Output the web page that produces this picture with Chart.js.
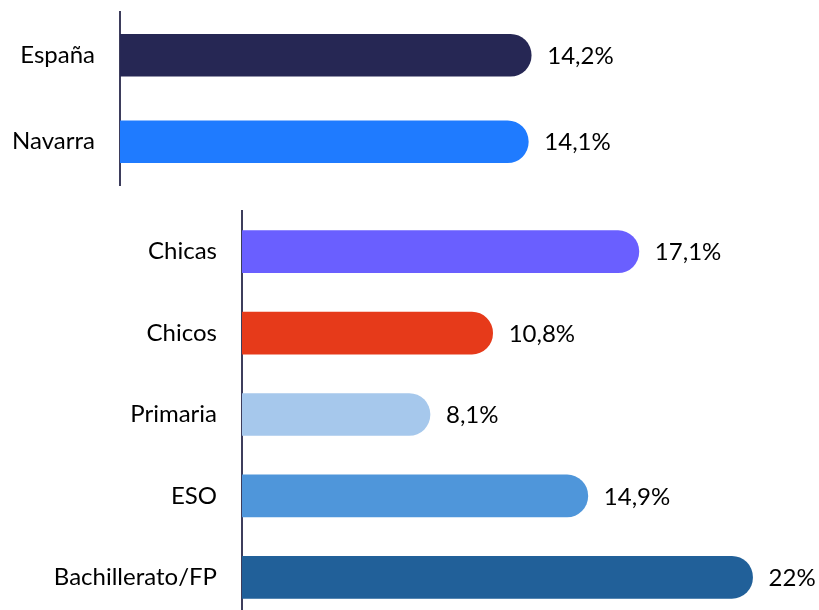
<!DOCTYPE html>
<html>
<head>
<meta charset="utf-8">
<script src="https://cdn.jsdelivr.net/npm/chart.js@4"></script>
<style>
  body { margin: 0; width: 819px; height: 610px; overflow: hidden; background: #fff; position: relative; }
  .box { position: absolute; left: 0; width: 819px; }
  #topBox { top: 0; height: 192px; }
  #groupBox { top: 200px; height: 420px; }
</style>
</head>
<body>
<div class="box" id="topBox"><canvas id="topChart"></canvas></div>
<div class="box" id="groupBox"><canvas id="groupChart"></canvas></div>
<script>
// Top panel: territory
const topLabels = ['España', 'Navarra'];
const topValues = [14.2, 14.1];
const topColors = ['#262754', '#1f7bff'];

// Bottom panel: sex and stage
const groupLabels = ['Chicas', 'Chicos', 'Primaria', 'ESO', 'Bachillerato/FP'];
const groupValues = [17.1, 10.8, 8.1, 14.9, 22];
const groupColors = ['#6a5fff', '#e63a1a', '#a6c8ec', '#4f96da', '#216099'];

const FONT = 'Lato';

// draws "14,2%" style labels after each bar
const valueLabels = {
    id: 'valueLabels',
    afterDatasetsDraw(chart) {
        const ctx = chart.ctx;
        ctx.save();
        ctx.font = '24px ' + FONT;
        ctx.fillStyle = '#000';
        ctx.textAlign = 'left';
        ctx.textBaseline = 'middle';
        chart.getDatasetMeta(0).data.forEach((bar, i) => {
            const v = chart.data.datasets[0].data[i];
            ctx.fillText(String(v).replace('.', ',') + '%', bar.x + 16, bar.y + 1);
        });
        ctx.restore();
    }
};

function makeChart(id, labels, values, colors, axisWidth, padding) {
    return new Chart(document.getElementById(id), {
        type: 'bar',
        data: {
            labels: labels,
            datasets: [{
                data: values,
                backgroundColor: colors,
                borderRadius: 25,
                borderSkipped: 'start',
                barThickness: 42
            }]
        },
        options: {
            indexAxis: 'y',
            responsive: true,
            maintainAspectRatio: false,
            animation: false,
            layout: { padding: padding },
            plugins: {
                legend: { display: false },
                tooltip: { enabled: false }
            },
            scales: {
                x: { display: false, min: 0, max: 24 },
                y: {
                    grid: { display: false, drawTicks: false },
                    border: { display: true, color: '#3d3d5c', width: 2 },
                    ticks: {
                        color: '#000',
                        padding: 25,
                        font: { family: FONT, size: 24 }
                    },
                    afterFit(scale) {
                        scale.width = axisWidth;
                        // tick padding would otherwise push the plot area in vertically
                        scale.paddingTop = 0;
                        scale.paddingBottom = 0;
                    }
                }
            }
        },
        plugins: [valueLabels]
    });
}

makeChart('topChart', topLabels, topValues, topColors, 120, { top: 12, bottom: 7, left: 0, right: 4 });
makeChart('groupChart', groupLabels, groupValues, groupColors, 242, { top: 11, bottom: 2, left: 0, right: 20 });
</script>
</body>
</html>
